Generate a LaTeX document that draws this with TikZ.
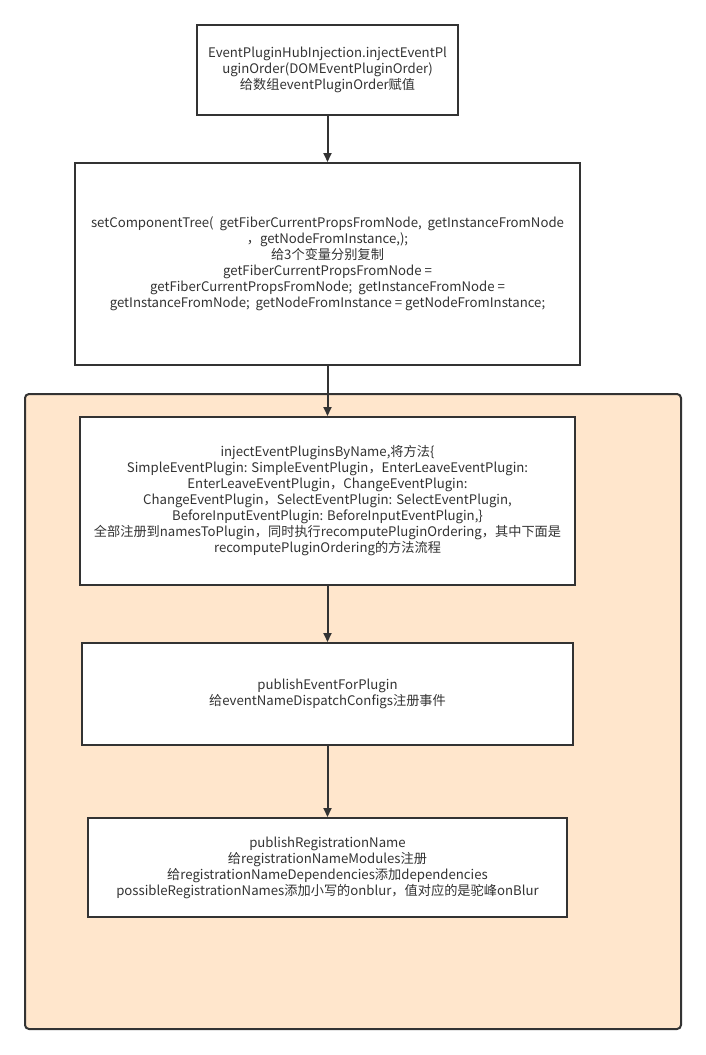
\documentclass[tikz,border=0pt]{standalone}
\usepackage{fontspec}
\setmainfont{Noto Sans CJK SC}
\newfontfamily\cjk{Noto Sans CJK SC}
\usetikzlibrary{arrows.meta}
\definecolor{edge}{HTML}{333333}
\definecolor{groupfill}{HTML}{FFE6CC}
\tikzset{
  flowbox/.style={draw=edge, line width=2pt, fill=white, align=center, text=edge, inner sep=2pt,
    font=\cjk\fontsize{13.2}{16}\selectfont},
  flowarrow/.style={draw=edge, line width=2pt, -{Triangle[length=9pt,width=8pt]}},
  groupbox/.style={draw=edge, line width=2pt, fill=groupfill, rounded corners=4pt}
}
\begin{document}
\begin{tikzpicture}[x=1pt,y=-1pt]
\useasboundingbox (0,0) rectangle (706,1055);
\fill[white] (0,0) rectangle (706,1055);
\draw[groupbox] (25,394) rectangle (681,1029);
\node[flowbox, minimum width=261pt, minimum height=90pt] (b1) at (327.5,70)
 {EventPluginHubInjection.injectEventPl\\uginOrder(DOMEventPluginOrder)\\给数组eventPluginOrder赋值};
\node[flowbox, minimum width=505pt, minimum height=202pt] (b2) at (327.5,264)
 {setComponentTree(\ \ getFiberCurrentPropsFromNode,\ \ getInstanceFromNode\\，getNodeFromInstance,);\\给3个变量分别复制\\getFiberCurrentPropsFromNode =\\getFiberCurrentPropsFromNode;\ \ getInstanceFromNode =\\getInstanceFromNode;\ \ getNodeFromInstance = getNodeFromInstance;};
\node[flowbox, minimum width=495pt, minimum height=168pt] (b3) at (327.5,501)
 {injectEventPluginsByName,将方法\{\\SimpleEventPlugin: SimpleEventPlugin，EnterLeaveEventPlugin:\\EnterLeaveEventPlugin，ChangeEventPlugin:\\ChangeEventPlugin，SelectEventPlugin: SelectEventPlugin,\\BeforeInputEventPlugin: BeforeInputEventPlugin,\}\\全部注册到namesToPlugin，同时执行recomputePluginOrdering，其中下面是\\recomputePluginOrdering的方法流程};
\node[flowbox, minimum width=491pt, minimum height=102pt] (b4) at (327.5,694)
 {publishEventForPlugin\\给eventNameDispatchConfigs注册事件};
\node[flowbox, minimum width=479pt, minimum height=99pt] (b5) at (327.5,867.5)
 {publishRegistrationName\\给registrationNameModules注册\\给registrationNameDependencies添加dependencies\\possibleRegistrationNames添加小写的onblur，值对应的是驼峰onBlur};
\draw[flowarrow] (b1.south) -- (b2.north);
\draw[flowarrow] (b2.south) -- (b3.north);
\draw[flowarrow] (b3.south) -- (b4.north);
\draw[flowarrow] (b4.south) -- (b5.north);
\end{tikzpicture}
\end{document}
